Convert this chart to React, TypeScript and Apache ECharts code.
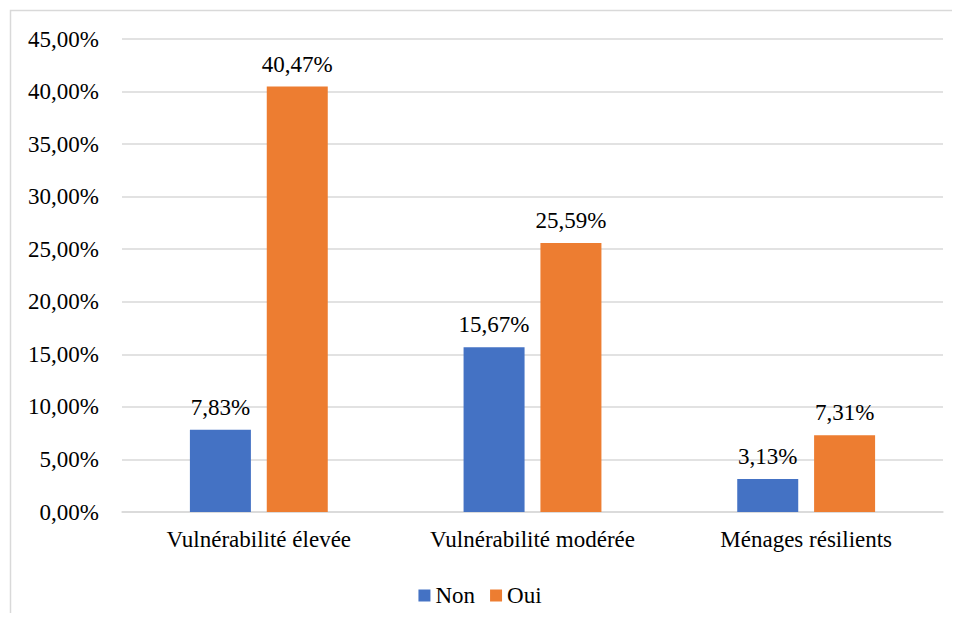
import React, { useEffect, useRef } from "react";
import * as echarts from "echarts";

const categories = ["Vulnérabilité élevée", "Vulnérabilité modérée", "Ménages résilients"];
const nonValues = [7.83, 15.67, 3.13];
const ouiValues = [40.47, 25.59, 7.31];
const seriesNames = ["Non", "Oui"];

const FONT = "Liberation Serif";
const FS = 23;
const fmt = (v: number) => v.toFixed(2).replace(".", ",") + "%";

export default function App() {
  const ref = useRef<HTMLDivElement>(null);

  useEffect(() => {
    if (!ref.current) return;
    const chart = echarts.init(ref.current, undefined, { renderer: "svg" });
    const labelStyle = {
      show: true,
      position: "top" as const,
      distance: 11,
      color: "#000",
      fontFamily: FONT,
      fontSize: FS,
      formatter: (p: any) => fmt(p.value),
    };
    chart.setOption({
      animation: false,
      graphic: [
        {
          type: "rect",
          shape: { x: 10.5, y: 10.5, width: 980, height: 640 },
          style: { fill: "none", stroke: "#d9d9d9", lineWidth: 1.5 },
          silent: true,
        },
      ],
      grid: { left: 122, right: 17, top: 39, bottom: 109, containLabel: false },
      legend: {
        data: seriesNames,
        top: 579,
        left: "center",
        icon: "rect",
        itemWidth: 12,
        itemHeight: 12,
        itemGap: 15,
        textStyle: { fontFamily: FONT, fontSize: FS, color: "#000" },
      },
      xAxis: {
        type: "category",
        data: categories,
        axisLine: { lineStyle: { color: "#d9d9d9", width: 1.5 } },
        axisTick: { show: false },
        axisLabel: { color: "#000", fontFamily: FONT, fontSize: FS, margin: 16 },
      },
      yAxis: {
        type: "value",
        min: 0,
        max: 45,
        interval: 5,
        axisLine: { show: false },
        axisTick: { show: false },
        splitLine: { lineStyle: { color: "#d9d9d9", width: 1.5 } },
        axisLabel: {
          color: "#000",
          fontFamily: FONT,
          fontSize: FS,
          margin: 23,
          formatter: (v: number) => fmt(v),
        },
      },
      series: [
        {
          name: seriesNames[0],
          type: "bar",
          data: nonValues,
          barWidth: 61,
          barGap: "26%",
          itemStyle: { color: "#4472c4" },
          label: labelStyle,
        },
        {
          name: seriesNames[1],
          type: "bar",
          data: ouiValues,
          barWidth: 61,
          itemStyle: { color: "#ed7d31" },
          label: labelStyle,
        },
      ],
    });
    return () => chart.dispose();
  }, []);

  return (
    <div
      ref={ref}
      style={{ width: 960, height: 621, margin: -8, background: "#fff", fontFamily: FONT }}
    />
  );
}
